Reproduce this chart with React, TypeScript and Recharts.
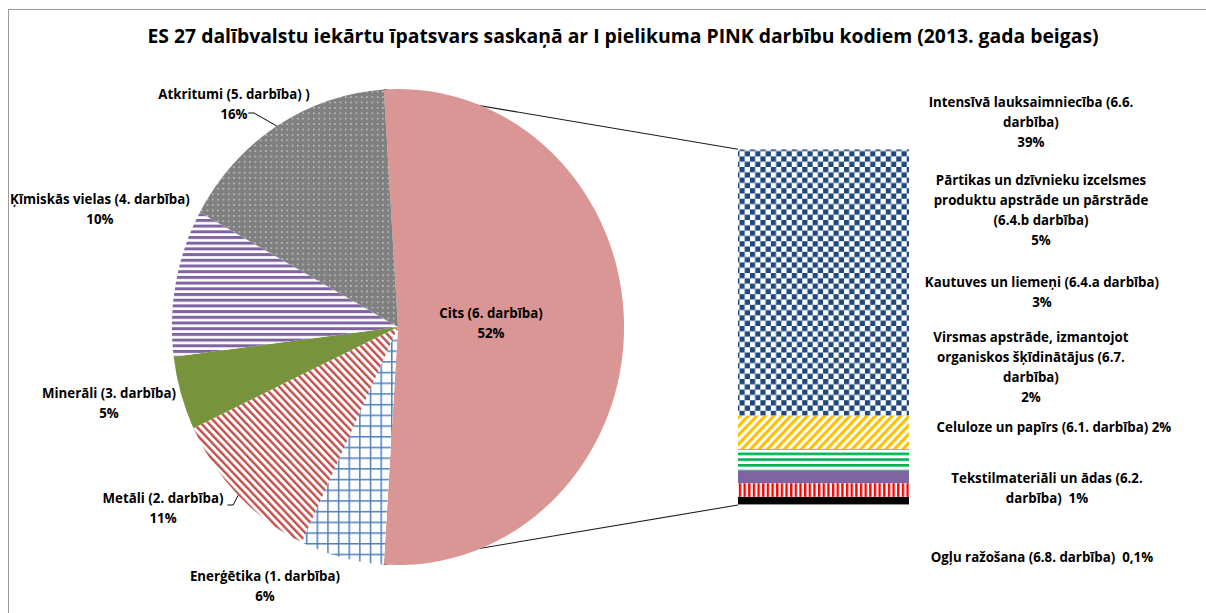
import React from 'react';
import { PieChart, Pie, Cell, BarChart, Bar, XAxis, YAxis, Customized } from 'recharts';

// ---------- DATA ----------
const TITLE =
  'ES 27 dalībvalstu iekārtu īpatsvars saskaņā ar I pielikuma PINK darbību kodiem (2013. gada beigas)';

const pieNames = [
  'Cits (6. darbība)',
  'Enerģētika (1. darbība)',
  'Metāli (2. darbība)',
  'Minerāli (3. darbība)',
  'Ķīmiskās vielas (4. darbība)',
  'Atkritumi (5. darbība) )',
];
const pieValues = [52, 6, 11, 5, 10, 16];

// bar segments, top to bottom
const barNames = [
  'Intensīvā lauksaimniecība (6.6.\ndarbība)\n{p}',
  'Pārtikas un dzīvnieku izcelsmes\nproduktu apstrāde un pārstrāde\n(6.4.b darbība)\n{p}',
  'Kautuves un liemeņi (6.4.a darbība)\n{p}',
  'Virsmas apstrāde, izmantojot\norganiskos šķīdinātājus (6.7.\ndarbība)\n{p}',
  'Celuloze un papīrs (6.1. darbība) {p}',
  'Tekstilmateriāli un ādas (6.2.\ndarbība)  {p}',
  'Ogļu ražošana (6.8. darbība)  {p}',
];
const barValues = [39.0, 4.9, 3.1, 1.9, 2.0, 1.1, 0.1];

// ---------- LAYOUT / STYLE ----------
const SX = 0.95; // horizontal squeeze of the whole picture
const W = 1261;
const H = 604;
const PIE = { cx: 410.5, cy: 319, r: 238 };
const BAR = { left: 768.4, top: 141.3, width: 180, height: 355.7 };
const LINE_H = 20;
const FONT = '"Open Sans", Lato, sans-serif';
const LABEL_SIZE = 14;
const TITLE_SIZE = 20.4;

const pieFills = ['#D99694', 'url(#pGridBlue)', 'url(#pDiagRed)', '#77933C', 'url(#pStripePurple)', 'url(#pDots)'];
const barFills = ['url(#pChecker)', 'url(#pDiagYellow)', 'url(#pStripeGreen)', '#8064A2', 'url(#pVRed)', '#000000', '#A6A6A6'];

const pieLabelPos: [number, number][] = [
  [508.4, 310],
  [270.5, 573],
  [163.2, 495],
  [106.3, 390],
  [96.8, 196],
  [237.9, 91],
];
const pieLeaderStart: ([number, number] | null)[] = [null, null, [231, 497], null, null, [253, 105]];
const barLabelPos: [number, number][] = [
  [1076.8, 99],
  [1087.4, 177],
  [1088.4, 279],
  [1076.8, 334],
  [1101, 424],
  [1093.7, 475],
  [1088.4, 554],
];

const pieTotal = pieValues.reduce((a, b) => a + b, 0);
const barTotal = barValues.reduce((a, b) => a + b, 0);
const cutHalfAngle = (pieValues[0] / pieTotal) * 180;

const pieData = pieNames.map((name, i) => ({ name, value: pieValues[i] }));
const barRow: Record<string, number | string> = { cat: 'Cits' };
barValues.forEach((v, i) => {
  barRow['s' + i] = v;
});
const barData = [barRow];

const fmtPct = (v: number) => (v >= 1 ? `${Math.round(v)}%` : `${String(v).replace('.', ',')}%`);

const textStyle: React.CSSProperties = {
  fontFamily: FONT,
  fontWeight: 700,
  fontSize: LABEL_SIZE,
  fill: '#000',
  whiteSpace: 'pre',
};

const MultiLine = ({ x, y, lines }: { x: number; y: number; lines: string[] }) => (
  <text x={x} y={y} textAnchor="middle" style={textStyle}>
    {lines.map((l, k) => (
      <tspan key={k} x={x} y={y + k * LINE_H}>
        {l}
      </tspan>
    ))}
  </text>
);

const PiePatterns = () => (
  <defs>
    <pattern id="pDots" patternUnits="userSpaceOnUse" width="5.6" height="5.4">
      <rect width="5.6" height="5.4" fill="#808080" />
      <rect x="2" y="2" width="1.4" height="1.3" fill="#E0E0E0" />
    </pattern>
    <pattern id="pStripePurple" patternUnits="userSpaceOnUse" width="6" height="5.7">
      <rect width="6" height="5.7" fill="#FFFFFF" />
      <rect width="6" height="3" fill="#8064A2" />
    </pattern>
    <pattern id="pDiagRed" patternUnits="userSpaceOnUse" width="5.6" height="5.6" patternTransform="rotate(-45)">
      <rect width="5.6" height="5.6" fill="#FFFFFF" />
      <rect width="2.5" height="5.6" fill="#C0504D" />
    </pattern>
    <pattern id="pGridBlue" patternUnits="userSpaceOnUse" width="11.2" height="10.7">
      <rect width="11.2" height="10.7" fill="#FFFFFF" />
      <rect width="1.6" height="10.7" fill="#4F81BD" />
      <rect width="11.2" height="1.5" fill="#4F81BD" />
    </pattern>
  </defs>
);

const BarPatterns = () => (
  <defs>
    <pattern id="pChecker" patternUnits="userSpaceOnUse" width="11" height="10.6">
      <rect width="11" height="10.6" fill="#FFFFFF" />
      <rect width="5.5" height="5.3" fill="#1F497D" />
      <rect x="5.5" y="5.3" width="5.5" height="5.3" fill="#1F497D" />
    </pattern>
    <pattern id="pDiagYellow" patternUnits="userSpaceOnUse" width="6.3" height="6.3" patternTransform="rotate(45)">
      <rect width="6.3" height="6.3" fill="#FFFFFF" />
      <rect width="3.2" height="6.3" fill="#FFC000" />
    </pattern>
    <pattern id="pStripeGreen" patternUnits="userSpaceOnUse" width="6" height="5.7">
      <rect width="6" height="5.7" fill="#FFFFFF" />
      <rect width="6" height="2.6" fill="#00B050" />
    </pattern>
    <pattern id="pVRed" patternUnits="userSpaceOnUse" width="4.9" height="6">
      <rect width="4.9" height="6" fill="#FFFFFF" />
      <rect width="2.5" height="6" fill="#FF0000" />
    </pattern>
  </defs>
);

const renderPieLabel = (props: any) => {
  const { index, midAngle } = props;
  const cx = typeof props.cx === 'number' ? props.cx : PIE.cx;
  const cy = typeof props.cy === 'number' ? props.cy : PIE.cy;
  const r = typeof props.outerRadius === 'number' ? props.outerRadius : PIE.r;
  const [x, y] = pieLabelPos[index];
  const lines = (pieNames[index] + '\n' + fmtPct(pieValues[index])).split('\n');
  const rad = (-midAngle * Math.PI) / 180;
  const ex = cx + r * Math.cos(rad);
  const ey = cy + r * Math.sin(rad);
  const ls = pieLeaderStart[index];
  return (
    <g key={'pl' + index}>
      {ls && (
        <polyline
          points={`${ls[0]},${ls[1]} ${ls[0] + 6},${ls[1]} ${ex},${ey}`}
          fill="none"
          stroke="#000"
          strokeWidth={1}
        />
      )}
      <MultiLine x={x} y={y} lines={lines} />
    </g>
  );
};

const makeBarLabel = (i: number) => (props: any) => {
  const [x, y] = barLabelPos[i];
  const lines = barNames[i].replace('{p}', fmtPct(barValues[i])).split('\n');
  return <MultiLine key={'bl' + i} x={x} y={y} lines={lines} />;
};

const ConnectorLines = () => {
  const a1 = (cutHalfAngle * Math.PI) / 180;
  const topPt = { x: PIE.cx + PIE.r * Math.cos(a1), y: PIE.cy - PIE.r * Math.sin(a1) };
  const botPt = { x: PIE.cx + PIE.r * Math.cos(a1), y: PIE.cy + PIE.r * Math.sin(a1) };
  return (
    <g>
      <line x1={topPt.x} y1={topPt.y} x2={BAR.left} y2={BAR.top} stroke="#1a1a1a" strokeWidth={1.1} />
      <line
        x1={botPt.x}
        y1={botPt.y}
        x2={BAR.left}
        y2={BAR.top + BAR.height}
        stroke="#1a1a1a"
        strokeWidth={1.1}
      />
    </g>
  );
};

const Title = () => (
  <text x={647.4} y={35} textAnchor="middle" style={{ ...textStyle, fontSize: TITLE_SIZE }}>
    {TITLE}
  </text>
);

// bottom-to-top order for stacking
const stackOrder = barValues.map((_, i) => barValues.length - 1 - i);

export default function App() {
  return (
    <div
      style={{
        position: 'fixed',
        left: 8,
        top: 8,
        width: 1198,
        height: 605,
        overflow: 'hidden',
        background: '#fff',
      }}
    >
      <div
        style={{
          position: 'absolute',
          left: 0,
          top: 1,
          width: 1300,
          height: 700,
          borderTop: '1px solid #9A9A9A',
          borderLeft: '1px solid #9A9A9A',
        }}
      />
      <div
        style={{
          position: 'absolute',
          left: 0,
          top: 0,
          width: W,
          height: H,
          transform: `scaleX(${SX})`,
          transformOrigin: '0 0',
        }}
      >
        <div style={{ position: 'absolute', left: 0, top: 0 }}>
          <BarChart
            width={W}
            height={H}
            data={barData}
            margin={{
              left: BAR.left,
              top: BAR.top,
              right: W - BAR.left - BAR.width,
              bottom: H - BAR.top - BAR.height,
            }}
            barCategoryGap={0}
            barGap={0}
          >
            <BarPatterns />
            <XAxis dataKey="cat" hide />
            <YAxis hide domain={[0, barTotal]} allowDataOverflow type="number" />
            <Customized component={ConnectorLines} />
            {stackOrder.map((i) => (
              <Bar
                key={'s' + i}
                dataKey={'s' + i}
                stackId="a"
                fill={barFills[i]}
                stroke="none"
                isAnimationActive={false}
                label={makeBarLabel(i)}
              />
            ))}
          </BarChart>
        </div>
        <div style={{ position: 'absolute', left: 0, top: 0 }}>
          <PieChart width={W} height={H} margin={{ top: 0, right: 0, bottom: 0, left: 0 }}>
            <PiePatterns />
            <Customized component={Title} />
            <Pie
              data={pieData}
              dataKey="value"
              nameKey="name"
              cx={PIE.cx}
              cy={PIE.cy}
              innerRadius={0}
              outerRadius={PIE.r}
              startAngle={cutHalfAngle}
              endAngle={cutHalfAngle - 360}
              stroke="none"
              label={renderPieLabel}
              labelLine={false}
              isAnimationActive={false}
            >
              {pieData.map((d, i) => (
                <Cell key={d.name} fill={pieFills[i]} stroke="none" />
              ))}
            </Pie>
          </PieChart>
        </div>
      </div>
    </div>
  );
}
